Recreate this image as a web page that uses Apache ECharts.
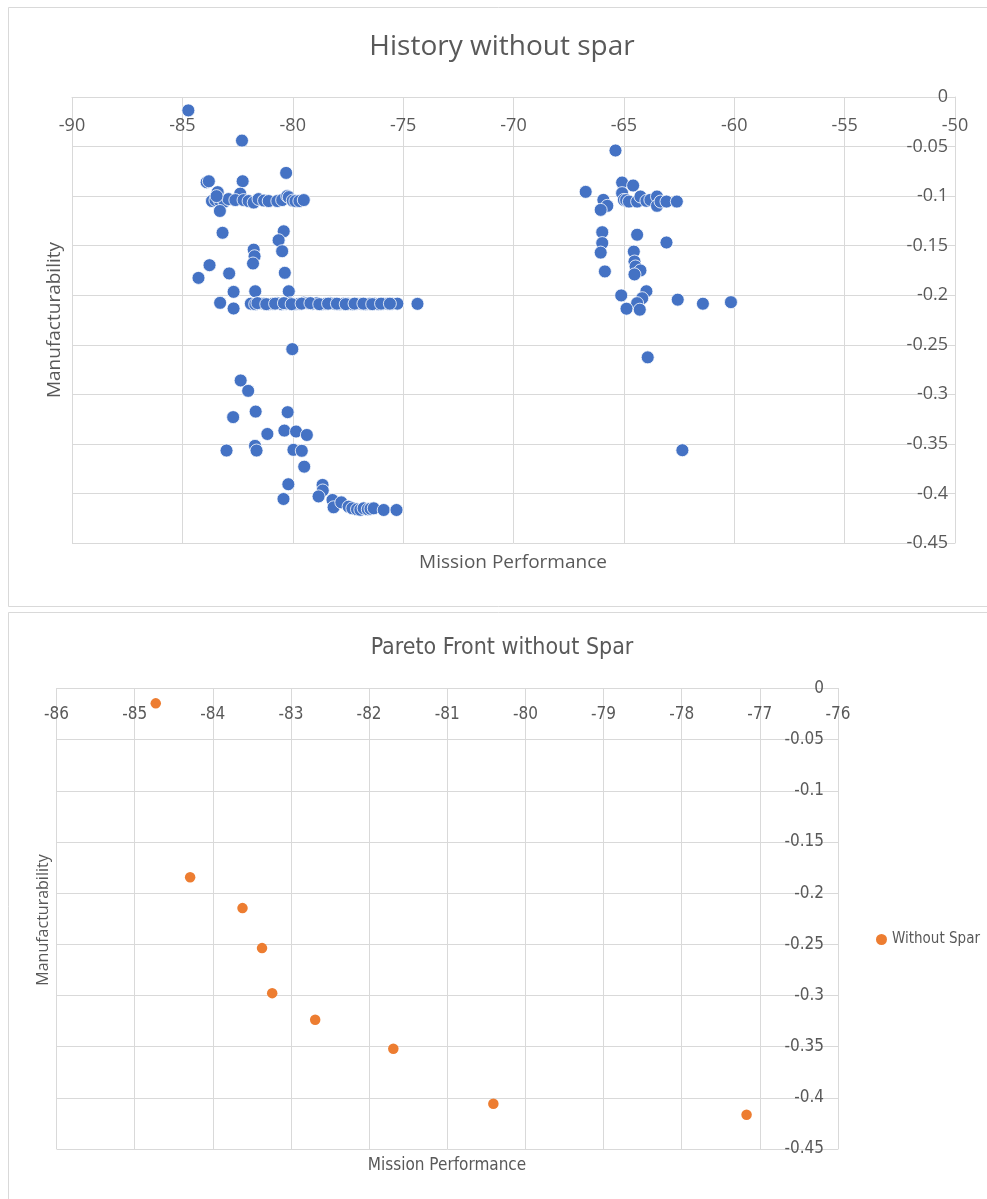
<!DOCTYPE html>
<html>
<head>
<meta charset="utf-8">
<script src="https://cdn.jsdelivr.net/npm/echarts@6/dist/echarts.min.js"></script>
<style>
html,body{margin:0;padding:0;background:#fff;}
#chart{width:987px;height:1199px;}
</style>
</head>
<body>
<div id="chart"></div>
<script>
// ---- Top chart: History without spar ----
const historyX = [
  -84.73, -82.30, -80.30, -83.90, -83.80, -82.27, -83.40, -82.38,
  -83.66, -83.50, -83.29, -83.10, -82.91, -82.60, -82.23, -82.00, -81.77, -81.55, -81.30, -81.09,
  -80.70, -80.48, -80.25, -80.18, -80.00, -79.88, -79.70, -79.50, -83.45,
  -83.30, -83.18, -80.41, -80.64, -80.48, -81.77, -81.73, -81.80, -83.77, -84.27, -82.88, -80.36,
  -82.68, -81.70, -80.18, -83.29, -82.68,
  -81.90, -81.70, -81.50, -81.30, -81.10, -80.90, -80.70, -80.50, -80.30, -80.10,
  -79.90, -79.70, -79.50, -79.30, -79.10, -78.90, -78.70, -78.50, -78.30, -78.10,
  -77.90, -77.70, -77.50, -77.30, -77.10, -76.90, -76.70, -76.50, -76.30, -76.10,
  -75.90, -75.70, -75.50, -75.26, -74.35,
  -81.60, -81.20, -80.80, -80.40, -80.05, -79.60, -79.20, -78.80, -78.40, -78.00,
  -77.60, -77.20, -76.80, -76.40, -76.00, -75.60,
  -80.02, -82.36, -82.02, -82.70, -81.68, -80.23, -81.15, -80.38, -79.85, -79.36,
  -83.00, -81.71, -81.64, -79.97, -79.59, -79.48, -80.20, -80.42, -78.65, -78.64,
  -78.83, -78.20, -78.15, -77.80, -77.47, -77.30, -77.09, -76.94, -76.79, -76.60,
  -76.48, -76.33, -75.88, -75.30,
  -65.38, -66.73, -65.08, -64.58, -65.08, -65.00, -64.90, -64.77, -64.40, -64.25,
  -63.98, -63.80, -63.50, -63.50, -63.34, -63.07, -62.60, -65.93, -65.75, -66.05,
  -65.98, -65.98, -66.05, -65.86, -64.40, -63.07, -64.55, -64.52, -64.47, -64.25,
  -64.52, -65.12, -63.98, -64.17, -64.40, -64.88, -64.28, -62.56, -61.42, -60.15,
  -63.92, -62.35
];
const historyY = [
  -0.0135, -0.0440, -0.0766, -0.0860, -0.0850, -0.0850, -0.0960, -0.0975,
  -0.1050, -0.1040, -0.1050, -0.1055, -0.1030, -0.1040, -0.1040, -0.1050, -0.1065, -0.1030, -0.1045, -0.1050,
  -0.1050, -0.1040, -0.1000, -0.1010, -0.1045, -0.1050, -0.1050, -0.1040, -0.1000,
  -0.1150, -0.1370, -0.1355, -0.1445, -0.1556, -0.1540, -0.1607, -0.1680, -0.1697, -0.1825, -0.1780, -0.1774,
  -0.1966, -0.1960, -0.1960, -0.2077, -0.2134,
  -0.2085, -0.2090, -0.2080, -0.2085, -0.2090, -0.2085, -0.2080, -0.2090, -0.2085, -0.2080,
  -0.2090, -0.2085, -0.2075, -0.2080, -0.2085, -0.2080, -0.2090, -0.2085, -0.2080, -0.2085,
  -0.2090, -0.2085, -0.2085, -0.2090, -0.2085, -0.2085, -0.2090, -0.2085, -0.2085, -0.2090,
  -0.2085, -0.2085, -0.2085, -0.2085, -0.2087,
  -0.2080, -0.2090, -0.2085, -0.2080, -0.2090, -0.2085, -0.2080, -0.2090, -0.2085, -0.2085,
  -0.2090, -0.2085, -0.2085, -0.2090, -0.2085, -0.2085,
  -0.2544, -0.2860, -0.2965, -0.3230, -0.3174, -0.3180, -0.3400, -0.3366, -0.3375, -0.3410,
  -0.3567, -0.3520, -0.3567, -0.3560, -0.3570, -0.3730, -0.3907, -0.4056, -0.3914, -0.3970,
  -0.4030, -0.4066, -0.4140, -0.4090, -0.4133, -0.4150, -0.4160, -0.4165, -0.4150, -0.4160,
  -0.4155, -0.4150, -0.4167, -0.4167,
  -0.0540, -0.0957, -0.0863, -0.0893, -0.0970, -0.1038, -0.1040, -0.1055, -0.1055, -0.1004,
  -0.1048, -0.1038, -0.1004, -0.1098, -0.1055, -0.1055, -0.1055, -0.1038, -0.1098, -0.1139,
  -0.1364, -0.1474, -0.1570, -0.1760, -0.1390, -0.1468, -0.1560, -0.1660, -0.1710, -0.1750,
  -0.1790, -0.2002, -0.1960, -0.2030, -0.2080, -0.2136, -0.2146, -0.2045, -0.2086, -0.2070,
  -0.2627, -0.3564
];

// ---- Bottom chart: Pareto Front without Spar ----
const paretoX = [-84.73, -84.29, -83.62, -83.37, -83.24, -82.69, -81.69, -80.41, -77.17];
const paretoY = [-0.0145, -0.1844, -0.2146, -0.2537, -0.2977, -0.3237, -0.3520, -0.4058, -0.4165];

const topTitle = 'History without spar';
const bottomTitle = 'Pareto Front without Spar';
const xName = 'Mission Performance';
const yName = 'Manufacturability';
const legendName = 'Without Spar';

const historyData = historyX.map((x, i) => [x, historyY[i]]);
const paretoData = paretoX.map((x, i) => [x, paretoY[i]]);

const fmt = v => String(parseFloat(Number(v).toFixed(2)));
const grayText = '#595959';
const gridGray = '#d9d9d9';
const seg = '"Open Sans", "Noto Sans", sans-serif';
const narrow = '"Liberation Sans Narrow", "DejaVu Sans Condensed", "Liberation Sans", sans-serif';

const chart = echarts.init(document.getElementById('chart'), null, {renderer: 'canvas'});
chart.setOption({
  animation: false,
  backgroundColor: '#ffffff',
  graphic: [
    {type: 'rect', shape: {x: 8.5, y: 7.5, width: 990, height: 599}, style: {fill: 'none', stroke: gridGray, lineWidth: 1}, z: -10},
    {type: 'rect', shape: {x: 8.5, y: 612.5, width: 990, height: 600}, style: {fill: 'none', stroke: gridGray, lineWidth: 1}, z: -10},
    {type: 'text', x: 502, y: 47, style: {text: topTitle, fill: grayText, font: '28px ' + seg, textAlign: 'center', textVerticalAlign: 'middle'}},
    {type: 'text', x: 513, y: 563, style: {text: xName, fill: grayText, font: '19px ' + seg, textAlign: 'center', textVerticalAlign: 'middle'}},
    {type: 'text', x: 55, y: 320, rotation: Math.PI / 2, style: {text: yName, fill: grayText, font: '19px ' + seg, textAlign: 'center', textVerticalAlign: 'middle'}},
    {type: 'text', x: 502, y: 648, style: {text: bottomTitle, fill: grayText, font: '23px ' + narrow, textAlign: 'center', textVerticalAlign: 'middle'}},
    {type: 'text', x: 447, y: 1166, style: {text: xName, fill: grayText, font: '17px ' + narrow, textAlign: 'center', textVerticalAlign: 'middle'}},
    {type: 'text', x: 43, y: 920, rotation: Math.PI / 2, style: {text: yName, fill: grayText, font: '16px ' + seg, textAlign: 'center', textVerticalAlign: 'middle'}}
  ],
  legend: {
    data: [legendName],
    left: 871, top: 927,
    orient: 'vertical',
    icon: 'circle',
    itemWidth: 11, itemHeight: 11, itemGap: 4,
    textStyle: {color: grayText, fontSize: 15, fontFamily: narrow}
  },
  grid: [
    {left: 72, top: 97, width: 883, height: 446, containLabel: false},
    {left: 56.5, top: 688.5, width: 781.5, height: 460.5, containLabel: false}
  ],
  xAxis: [
    {
      gridIndex: 0, type: 'value', min: -90, max: -50, interval: 5, position: 'top',
      axisLine: {show: true, lineStyle: {color: gridGray, width: 1}},
      axisTick: {show: false},
      axisLabel: {inside: true, margin: 20, color: grayText, fontSize: 18, fontFamily: seg, formatter: fmt, verticalAlign: 'top'},
      splitLine: {show: true, lineStyle: {color: gridGray, width: 1}}
    },
    {
      gridIndex: 1, type: 'value', min: -86, max: -76, interval: 1, position: 'top',
      axisLine: {show: true, lineStyle: {color: gridGray, width: 1}},
      axisTick: {show: false},
      axisLabel: {inside: true, margin: 18, color: grayText, fontSize: 17, fontFamily: narrow, formatter: fmt, verticalAlign: 'top'},
      splitLine: {show: true, lineStyle: {color: gridGray, width: 1}}
    }
  ],
  yAxis: [
    {
      gridIndex: 0, type: 'value', min: -0.45, max: 0, interval: 0.05, position: 'right',
      axisLine: {show: true, lineStyle: {color: gridGray, width: 1}},
      axisTick: {show: false},
      axisLabel: {inside: true, margin: 7, color: grayText, fontSize: 18, fontFamily: seg, formatter: fmt},
      splitLine: {show: true, lineStyle: {color: gridGray, width: 1}}
    },
    {
      gridIndex: 1, type: 'value', min: -0.45, max: 0, interval: 0.05, position: 'right',
      axisLine: {show: true, lineStyle: {color: gridGray, width: 1}},
      axisTick: {show: false},
      axisLabel: {inside: true, margin: 14, color: grayText, fontSize: 17, fontFamily: narrow, formatter: fmt},
      splitLine: {show: true, lineStyle: {color: gridGray, width: 1}}
    }
  ],
  series: [
    {
      name: 'History', type: 'scatter', xAxisIndex: 0, yAxisIndex: 0,
      data: historyData, symbolSize: 13,
      itemStyle: {color: '#4472C4', borderColor: '#ffffff', borderWidth: 0.8, opacity: 1}
    },
    {
      name: legendName, type: 'scatter', xAxisIndex: 1, yAxisIndex: 1,
      data: paretoData, symbolSize: 10.5,
      itemStyle: {color: '#ED7D31', opacity: 1}
    }
  ]
});
</script>
</body>
</html>
